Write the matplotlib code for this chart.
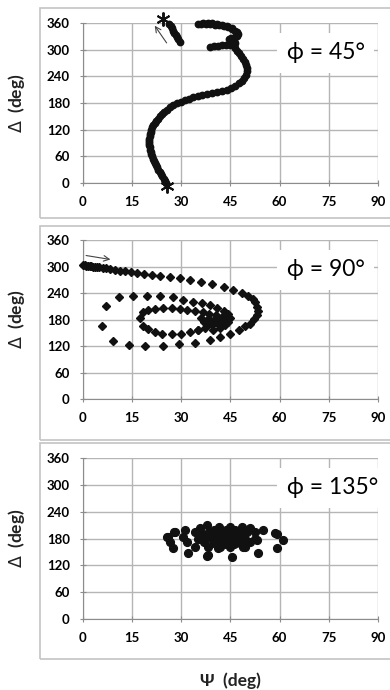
import numpy as np
import matplotlib
matplotlib.use("Agg")
import matplotlib.pyplot as plt
from matplotlib.patches import Rectangle

plt.rcParams['font.family'] = ['Lato', 'DejaVu Sans']

# Achsen
psi_ticks = [0, 15, 30, 45, 60, 75, 90]
delta_ticks = [0, 60, 120, 180, 240, 300, 360]
phi_labels = ["ϕ = 45°", "ϕ = 90°", "ϕ = 135°"]

# phi = 45 (Punkte der Kurve, von unten nach oben)
psi45 = [25.3, 25.0, 24.6, 24.2, 23.8, 23.4, 23.0, 22.6, 22.2, 21.9, 21.6, 21.3, 21.0, 20.8,
         20.6, 20.4, 20.3, 20.2, 20.2, 20.2, 20.2, 20.3, 20.4, 20.6, 20.8, 21.1, 21.5, 21.9,
         22.4, 22.9, 23.5, 24.1, 24.8, 25.6, 26.5, 27.5, 28.6, 29.8, 31.1, 32.4, 33.7, 35.0,
         36.4, 37.8, 39.3, 40.8, 42.3, 43.8, 45.2, 46.5, 47.6, 48.5, 49.2, 49.6, 49.9, 49.9,
         49.7, 49.3, 48.8, 48.2, 47.6, 47.0, 46.5, 46.0, 44.8, 43.6, 42.4, 41.2, 40.0, 38.8,
         46.5, 46.0, 45.2, 44.5, 45.3, 46.3, 47.0, 47.3, 47.1, 46.5, 45.5, 44.3, 43.0, 41.6,
         40.2, 38.8, 37.4, 36.0, 35.0, 36.5, 38.0, 39.5, 41.0, 42.5, 44.0, 45.5,
         29.5, 29.1, 28.7, 28.3, 27.9, 27.5, 27.1, 26.7, 26.3]
delta45 = [0, 5, 10, 15, 20, 25, 30, 35, 40, 45, 50, 55, 60, 65,
           70, 75, 80, 85, 90, 95, 100, 105, 110, 115, 120, 125, 130, 135,
           140, 145, 150, 155, 160, 165, 170, 175, 179, 183, 187, 190, 193, 196,
           199, 201, 203, 205, 207, 209, 213, 218, 224, 230, 237, 244, 251, 258,
           265, 272, 279, 286, 292, 298, 303, 308, 310, 310, 310, 309, 308, 307,
           314, 319, 322, 324, 326, 328, 331, 335, 339, 343, 347, 350, 353, 355,
           356, 357, 358, 358, 358, 361, 360, 359, 358, 356, 353, 349,
           318, 323, 328, 333, 338, 343, 348, 353, 358]
star_psi = [25.5, 24.4]
star_delta = [-6, 368]

# phi = 90
psi90 = [0.0, 0.5, 1.0, 1.5, 2.0, 2.5, 3.0, 3.6, 4.2, 5.0, 6.0, 7.0, 8.2, 9.8, 11.3, 12.8,
         14.6, 16.5, 18.6, 21.0, 23.5, 26.5, 29.5, 32.5, 36.0, 39.5, 43.0, 45.9, 48.4, 50.3,
         51.8, 52.5, 53.1, 53.3, 53.1, 52.3, 50.8, 49.4, 47.7, 45.0, 41.8, 38.6, 34.2, 29.4,
         24.3, 18.9, 14.0, 9.1, 5.7, 7.0,
         11.0, 15.4, 19.4, 23.5, 27.6, 30.6, 33.7, 36.2, 38.7, 40.8, 43.0, 44.3, 44.9, 44.3,
         43.3, 41.8, 39.8,
         17.4, 18.4, 19.9, 22.0, 24.5, 27.1, 29.6, 31.6, 34.2, 36.5, 38.5, 40.6, 42.3, 43.6,
         18.2, 19.9, 22.0, 24.2, 27.1, 29.9, 32.6, 35.2, 37.2, 39.3, 40.8, 42.3,
         36.0, 38.0, 40.0, 41.5, 39.0, 37.0, 35.0, 38.5]
delta90 = [303, 302.5, 302, 301.5, 301, 300.5, 300, 299.5, 299, 298, 297, 296, 294, 292, 291, 289,
           287, 286, 284, 281, 279, 277, 275, 270, 265, 260, 253, 247, 239, 233,
           226, 219, 209, 199, 190, 181, 171, 165, 156, 147, 140, 134, 128, 124,
           120, 120, 122, 131, 166, 211,
           231, 234, 234, 233, 231, 224, 220, 217, 213, 207, 199, 192, 183, 175,
           168, 161, 156,
           183, 196, 201, 204, 205, 206, 204, 202, 199, 196, 193, 190, 186, 183,
           166, 158, 152, 148, 147, 148, 151, 156, 161, 168, 173, 177,
           184, 182, 180, 179, 176, 175, 157, 172]

# phi = 135
psi135 = [26.0, 26.5, 28.1, 27.6, 30.6, 31.1, 31.6, 32.1, 34.2, 34.2, 35.7, 35.2, 37.7, 38.2,
          38.2, 39.3, 41.8, 45.4, 44.8, 48.9, 50.9, 50.9, 52.5, 52.5, 53.5, 55.0, 58.6, 59.1,
          61.1, 25.5, 27.8, 37.7, 41.3, 49.4, 53.0, 59.1,
          36.5, 37.5, 38.5, 39.5, 40.0, 40.5, 41.0, 41.5, 42.0, 42.5, 43.0, 43.5, 44.0, 44.5,
          45.0, 45.0, 45.5, 46.0, 46.5, 47.0, 47.5, 48.0, 48.5, 49.0, 49.5, 50.0, 43.0, 40.0,
          46.0, 48.0, 37.0, 44.0, 42.0, 47.0, 39.0, 41.0, 44.5, 46.5, 43.5]
delta135 = [184, 173, 195, 158, 184, 199, 173, 147, 162, 195, 203, 180, 210, 143,
            162, 188, 160, 139, 160, 162, 203, 173, 195, 180, 147, 199, 192, 158,
            176, 184, 195, 141, 158, 162, 177, 191,
            190, 185, 195, 180, 200, 175, 190, 205, 183, 195, 175, 200, 188, 180,
            205, 195, 172, 190, 200, 183, 176, 195, 205, 188, 178, 195, 168, 170,
            168, 170, 172, 193, 178, 190, 193, 168, 198, 186, 183]

fig = plt.figure(figsize=(3.9, 6.9), dpi=100)

# Rahmen der Einzeldiagramme
for y0, h in [(0.6841, 0.3043), (0.3623, 0.310), (0.0449, 0.313)]:
    fig.add_artist(Rectangle((0.1026, y0), 0.92, h, transform=fig.transFigure,
                             fill=False, ec='#c4c4c4', lw=1.2))

positions = [[0.2128, 0.7348, 0.7564, 0.2319],
             [0.2128, 0.4217, 0.7564, 0.2304],
             [0.2128, 0.1029, 0.7564, 0.2333]]
axes = [fig.add_axes(p) for p in positions]

for ax, lab in zip(axes, phi_labels):
    ax.set_xlim(0, 90)
    ax.set_ylim(0, 360)
    ax.set_xticks(psi_ticks)
    ax.set_yticks(delta_ticks)
    ax.grid(True, color='#b5b5b5', lw=1.0)
    ax.set_axisbelow(True)
    for s in ['top', 'right']:
        ax.spines[s].set_visible(False)
    for s in ['left', 'bottom']:
        ax.spines[s].set_color('#8c8c8c')
    ax.tick_params(direction='inout', length=5, color='#8c8c8c', labelsize=9.5, pad=7)
    for t in ax.get_xticklabels() + ax.get_yticklabels():
        t.set_fontweight('bold')
    ax.set_ylabel(r'$\mathit{\Delta}$  (deg)', fontsize=12.5, fontweight='bold', color='#222222')
    ax.yaxis.set_label_coords(-0.19, 0.5)
    ax.text(62.2, 293, lab, fontsize=16.5, va='center', ha='left', zorder=5,
            bbox=dict(facecolor='white', edgecolor='none', pad=7))

ax1, ax2, ax3 = axes

ax1.plot(psi45, delta45, 'o', ms=4.6, color='#111111', clip_on=False, zorder=4)
ax1.plot(star_psi, star_delta, marker=(6, 2, 0), ls='none', ms=10, mew=1.4,
         color='#111111', clip_on=False, zorder=4)
ax1.annotate('', xy=(21.4, 359), xytext=(26.0, 310),
             arrowprops=dict(arrowstyle='->', color='#444444', lw=0.8))

ax2.plot(psi90, delta90, 'D', ms=3.7, color='#111111', clip_on=False, zorder=4)
ax2.annotate('', xy=(9.2, 315), xytext=(0.1, 326),
             arrowprops=dict(arrowstyle='->', color='#444444', lw=0.8))

ax3.plot(psi135, delta135, 'o', ms=5.6, color='#111111', clip_on=False, zorder=4)
ax3.set_xlabel('Ψ  (deg)', fontsize=12.5, fontweight='bold', color='#222222')
ax3.xaxis.set_label_coords(0.5, -0.33)

fig.savefig('out.png', dpi=100)
